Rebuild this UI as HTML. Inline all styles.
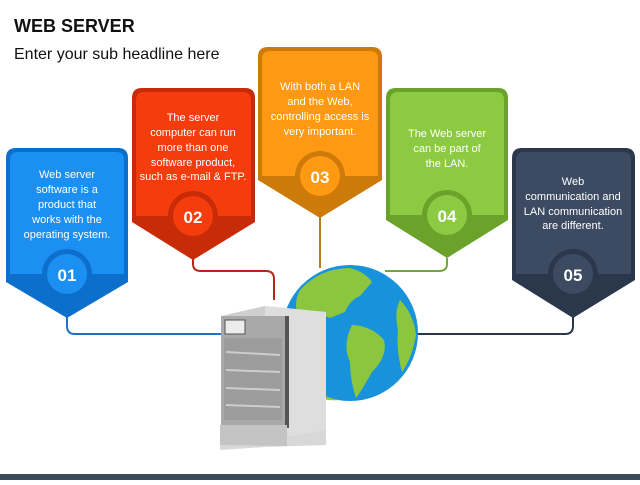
<!DOCTYPE html>
<html><head><meta charset="utf-8"><style>
body{margin:0;background:#fff;width:640px;height:480px;overflow:hidden;font-family:"Liberation Sans",sans-serif}
</style></head><body>
<svg width="640" height="480" viewBox="0 0 640 480" xmlns="http://www.w3.org/2000/svg" font-family="Liberation Sans, sans-serif">
<text x="14" y="32" font-size="18" font-weight="bold" fill="#111">WEB SERVER</text>
<text x="14" y="59" font-size="16" fill="#111">Enter your sub headline here</text>
<rect x="0" y="474" width="640" height="6" fill="#3d4a5c"/>
<g fill="none" stroke-width="2">
<path d="M67 316 V326 Q67 334 75 334 H222" stroke="#1f72c0"/>
<path d="M193 258 V264 Q193 271 201 271 H266 Q274 271 274 279 V300" stroke="#b8261a"/>
<path d="M320 215 V268" stroke="#c07a20"/>
<path d="M447 258 V264 Q447 271 439 271 H385" stroke="#6fa83a"/>
<path d="M573 316 V326 Q573 334 565 334 H415" stroke="#2a364a"/>
</g>
<g>
<path d="M16 148 H118 Q128 148 128 158 V282 L67 318 L6 282 V158 Q6 148 16 148Z" fill="#0c6fcb"/>
<path d="M18 152 H116 Q124 152 124 160 V274 H10 V160 Q10 152 18 152Z" fill="#1b8ff2"/>
<circle cx="67" cy="274" r="25" fill="#0c6fcb"/><circle cx="67" cy="274" r="20" fill="#1b8ff2"/>
<text x="67" y="281" font-size="17" font-weight="bold" fill="#fff" text-anchor="middle">01</text>
<g font-size="11" fill="#fff" text-anchor="middle"><text x="67" y="178">Web server</text><text x="67" y="193">software is a</text><text x="67" y="208">product that</text><text x="67" y="223">works with the</text><text x="67" y="238">operating system.</text></g>
</g>
<g>
<path d="M142 88 H245 Q255 88 255 98 V222 L193 260 L132 222 V98 Q132 88 142 88Z" fill="#c82b07"/>
<path d="M144 92 H243 Q251 92 251 100 V216 H136 V100 Q136 92 144 92Z" fill="#f43c0d"/>
<circle cx="193" cy="216" r="25" fill="#c82b07"/><circle cx="193" cy="216" r="20" fill="#f43c0d"/>
<text x="193" y="223" font-size="17" font-weight="bold" fill="#fff" text-anchor="middle">02</text>
<g font-size="11" fill="#fff" text-anchor="middle"><text x="193" y="121">The server</text><text x="193" y="136">computer can run</text><text x="193" y="151">more than one</text><text x="193" y="166">software product,</text><text x="193" y="180">such as e-mail &amp; FTP.</text></g>
</g>
<g>
<path d="M268 47 H372 Q382 47 382 57 V180 L320 218 L258 180 V57 Q258 47 268 47Z" fill="#cd7a0a"/>
<path d="M270 51 H370 Q378 51 378 59 V176 H262 V59 Q262 51 270 51Z" fill="#ff9812"/>
<circle cx="320" cy="176" r="25" fill="#cd7a0a"/><circle cx="320" cy="176" r="20" fill="#ff9812"/>
<text x="320" y="183" font-size="17" font-weight="bold" fill="#fff" text-anchor="middle">03</text>
<g font-size="11" fill="#fff" text-anchor="middle"><text x="320" y="90">With both a LAN</text><text x="320" y="105">and the Web,</text><text x="320" y="120">controlling access is</text><text x="320" y="135">very important.</text></g>
</g>
<g>
<path d="M396 88 H498 Q508 88 508 98 V220 L447 258 L386 220 V98 Q386 88 396 88Z" fill="#6aa22a"/>
<path d="M398 92 H496 Q504 92 504 100 V215 H390 V100 Q390 92 398 92Z" fill="#8dca44"/>
<circle cx="447" cy="215" r="25" fill="#6aa22a"/><circle cx="447" cy="215" r="20" fill="#8dca44"/>
<text x="447" y="222" font-size="17" font-weight="bold" fill="#fff" text-anchor="middle">04</text>
<g font-size="11" fill="#fff" text-anchor="middle"><text x="447" y="137">The Web server</text><text x="447" y="152">can be part of</text><text x="447" y="167">the LAN.</text></g>
</g>
<g>
<path d="M522 148 H625 Q635 148 635 158 V280 L573 318 L512 280 V158 Q512 148 522 148Z" fill="#2b374b"/>
<path d="M524 152 H623 Q631 152 631 160 V274 H516 V160 Q516 152 524 152Z" fill="#3c4a62"/>
<circle cx="573" cy="274" r="25" fill="#2b374b"/><circle cx="573" cy="274" r="20" fill="#3c4a62"/>
<text x="573" y="281" font-size="17" font-weight="bold" fill="#fff" text-anchor="middle">05</text>
<g font-size="11" fill="#fff" text-anchor="middle"><text x="573" y="185">Web</text><text x="573" y="200">communication and</text><text x="573" y="215">LAN communication</text><text x="573" y="229">are different.</text></g>
</g>
<circle cx="350" cy="333" r="68" fill="#1992dc"/>
<path d="M300 290 Q320 268 350 268 Q365 272 372 282 L360 296 Q350 300 345 312 L330 318 Q318 312 312 322 L300 318 Q292 305 300 290Z" fill="#8cc63f"/>
<path d="M352 325 Q372 326 384 340 Q388 356 372 372 Q362 390 356 398 Q350 380 350 362 Q342 345 352 325Z" fill="#8cc63f"/>
<path d="M400 300 Q414 315 416 335 Q412 358 402 372 Q396 350 398 330 Q394 312 400 300Z" fill="#8cc63f"/>
<path d="M294 370 Q310 395 340 400 Q320 402 300 390Z" fill="#8cc63f"/>
<path d="M220 450 V430 L263 424 L326 430 V445 L265 447Z" fill="#d8d8d8"/>
<path d="M221 316 L265 306 L326 312 V430 L265 440 Z" fill="#cfcfcf"/>
<path d="M265 306 L326 312 V430 L265 440Z" fill="#dedede"/>
<path d="M221 316 H285 V425 H221Z" fill="#a9a9a9"/>
<rect x="285" y="316" width="4" height="112" fill="#555"/>
<rect x="225" y="320" width="20" height="14" fill="#ececec" stroke="#555" stroke-width="1"/>
<rect x="224" y="338" width="58" height="82" fill="#9c9c9c"/>
<g stroke="#ccc" stroke-width="2"><line x1="226" y1="352" x2="280" y2="355"/><line x1="226" y1="370" x2="280" y2="372"/><line x1="226" y1="388" x2="280" y2="390"/><line x1="226" y1="405" x2="280" y2="407"/></g>
<path d="M220 425 H287 V446 L220 445Z" fill="#c4c4c4"/>
</svg>
</body></html>
